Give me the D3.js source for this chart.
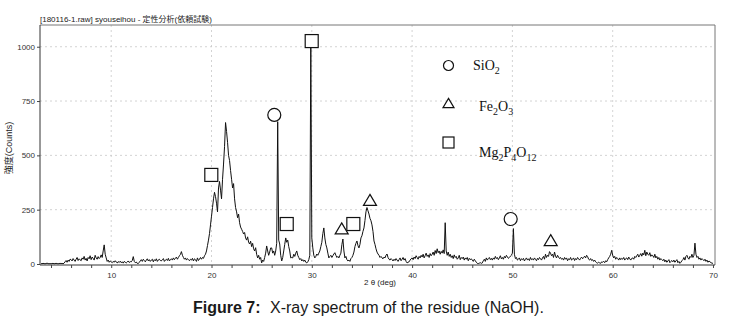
<!DOCTYPE html>
<html>
<head>
<meta charset="utf-8">
<script src="https://cdn.jsdelivr.net/npm/d3@7"></script>
<style>
    body { margin: 0; background: #fff; }
    .line { fill: none; stroke: #111; stroke-width: 1; }
    .grid { stroke: #c8c8c8; stroke-width: 0.8; stroke-dasharray: 2,3; }
    .tick text { font-family: Arial, "Liberation Sans", sans-serif; font-size: 8px; fill: #333; }
    .tick line { stroke: #444; }
    .mark { fill: #fff; stroke: #111; stroke-width: 1.2; }
    .legend { font-family: "Liberation Serif", "DejaVu Serif", serif; font-size: 14px; fill: #111; }
</style>
</head>
<body>
<svg id="container" width="752" height="331"></svg>
<script>
// XRD scan: counts every 0.1 deg starting at 3.0 deg (one row per degree)
const startAngle = 3.0
const angleStep = 0.1
const counts = [
    2,1,3,2,1,2,4,2,1,2,
    1,2,3,1,2,3,2,1,2,3,
    2,3,1,4,10,16,8,18,12,22,
    20,14,25,18,12,22,30,16,24,19,
    15,28,22,35,18,26,14,30,24,38,
    20,32,26,18,40,28,22,34,25,30,
    42,30,60,88,45,28,12,18,8,14,
    10,6,12,8,15,9,5,11,7,13,
    6,10,4,12,8,5,9,14,7,11,
    10,16,34,12,6,9,3,2,8,14,
    20,12,22,16,10,18,24,14,20,12,
    18,22,10,20,15,24,12,19,22,16,
    14,20,25,12,18,22,16,26,14,20,
    24,18,28,20,26,32,22,30,38,44,
    57,40,30,22,28,18,25,20,15,22,
    18,26,14,24,20,12,28,16,22,30,
    22,30,26,38,45,60,85,110,140,180,
    220,260,300,330,310,280,240,350,380,340,
    300,390,460,540,651,610,560,500,476,430,
    390,350,370,300,260,240,213,230,190,170,
    160,150,138,145,120,110,125,100,92,105,
    80,95,70,60,75,45,28,40,22,30,
    5,18,12,30,50,83,60,40,55,74,
    74,50,60,40,60,95,655,110,92,40,
    14,30,60,90,120,100,110,80,60,28,
    30,28,45,35,50,60,40,30,20,25,
    14,20,12,18,8,5,10,20,40,1010,
    120,74,40,28,35,46,40,50,60,80,
    100,140,166,120,90,74,50,28,35,40,
    30,38,46,52,40,30,35,28,40,50,
    90,115,60,28,35,20,14,18,12,25,
    30,40,55,80,95,106,85,74,90,120,
    130,150,166,200,240,260,245,230,210,199,
    180,150,106,90,70,55,46,40,30,35,
    28,24,32,28,40,46,30,22,18,25,
    20,14,22,16,25,18,12,20,28,15,
    22,30,18,25,12,5,8,10,18,24,
    28,20,32,25,38,30,22,35,28,40,
    32,45,28,38,50,35,42,30,48,38,
    45,55,40,62,48,70,52,60,45,58,
    50,65,48,190,60,40,55,35,45,30,
    38,25,42,30,35,22,28,40,20,30,
    25,32,18,28,22,30,15,26,20,24,
    18,12,22,15,8,3,2,4,6,3,
    5,15,22,12,28,18,25,30,20,26,
    18,28,22,35,25,30,20,28,38,24,
    30,22,35,28,40,33,26,30,36,40,
    50,163,45,25,30,18,22,28,15,24,
    20,26,14,22,28,18,24,16,30,20,
    24,18,28,22,15,26,20,30,24,18,
    28,35,22,45,30,40,35,57,50,38,
    45,30,55,36,28,40,32,25,30,22,
    26,18,30,22,28,15,24,20,30,18,
    22,28,16,25,20,30,24,18,26,32,
    24,30,36,28,40,34,22,18,25,16,
    20,12,18,10,6,4,8,5,3,10,
    8,12,6,15,10,20,28,35,45,63,
    40,28,35,22,30,25,18,28,20,26,
    22,30,18,25,28,20,32,24,18,26,
    28,22,35,30,38,45,32,40,48,36,
    50,42,63,38,55,45,40,52,35,42,
    38,30,45,28,35,22,30,18,25,20,
    15,22,10,18,8,14,20,6,12,16,
    10,18,8,14,20,6,12,3,8,15,
    20,30,18,35,40,28,22,35,30,45,
    30,40,96,45,30,35,22,28,18,25,
    20,15,22,12,18,8,14,10,6,4,
    3
]

const yTicks = [0, 250, 500, 750, 1000]
const xLabels = [10, 20, 30, 40, 50, 60, 70]

// peak markers [2theta, counts] for each phase
const sio2Marks = [[26.26, 686], [49.83, 207]]
const fe2o3Marks = [[32.98, 164], [35.8, 295], [53.82, 110]]
const mg2p4o12Marks = [[19.98, 410], [27.5, 184], [29.99, 1026], [34.14, 184]]

let svg = d3.select("#container")
let plotLeft = 40, plotRight = 715, plotTop = 25, plotBottom = 265

let x = d3.scaleLinear().domain([3, 70.2]).range([41, 715])
let y = d3.scaleLinear().domain([0, 1100]).range([264, 25])

// grid
svg.append("g").selectAll("line")
    .data([10, 20, 30, 40, 50, 60])
    .enter().append("line")
    .attr("class", "grid")
    .attr("x1", d => x(d)).attr("x2", d => x(d))
    .attr("y1", plotTop).attr("y2", plotBottom)
svg.append("g").selectAll("line")
    .data(yTicks.filter(d => d > 0))
    .enter().append("line")
    .attr("class", "grid")
    .attr("x1", plotLeft).attr("x2", plotRight)
    .attr("y1", d => y(d)).attr("y2", d => y(d))

// frame
svg.append("path")
    .attr("d", `M${plotLeft},${plotTop}H${plotRight}V${plotBottom}`)
    .attr("fill", "none").attr("stroke", "#777").attr("stroke-width", 1)
svg.append("path")
    .attr("d", `M${plotLeft},${plotTop}V${plotBottom}H${plotRight}`)
    .attr("fill", "none").attr("stroke", "#333").attr("stroke-width", 1)

// axes
let xAxis = d3.axisBottom(x)
    .tickValues(d3.range(4, 71, 2))
    .tickSize(3)
    .tickFormat(d => xLabels.includes(d) ? d : "")
svg.append("g").attr("transform", `translate(0,${plotBottom})`).call(xAxis)
    .call(g => g.select(".domain").remove())
    .selectAll("text").attr("dy", "0.9em")

let yAxis = d3.axisLeft(y).tickValues(yTicks).tickFormat(d3.format("d")).tickSize(3).tickPadding(2)
svg.append("g").attr("transform", `translate(${plotLeft},0)`).call(yAxis)
    .call(g => g.select(".domain").remove())

// spectrum
let line = d3.line()
    .x((d, i) => x(startAngle + i * angleStep))
    .y(d => y(d))
svg.append("path").datum(counts).attr("class", "line").attr("d", line)

// markers
function drawSymbol(g, kind, cx, cy, s) {
    if (kind == "circle") {
        g.append("circle").attr("class", "mark").attr("cx", cx).attr("cy", cy).attr("r", s / 2)
    } else if (kind == "square") {
        g.append("rect").attr("class", "mark")
            .attr("x", cx - s / 2).attr("y", cy - s / 2).attr("width", s).attr("height", s)
    } else {
        let h = s * 0.85
        g.append("path").attr("class", "mark")
            .attr("d", `M${cx},${cy - h / 2}L${cx + s / 2},${cy + h / 2}L${cx - s / 2},${cy + h / 2}Z`)
    }
}
let marks = svg.append("g")
sio2Marks.forEach(d => drawSymbol(marks, "circle", x(d[0]), y(d[1]), 13))
fe2o3Marks.forEach(d => drawSymbol(marks, "triangle", x(d[0]), y(d[1]), 13))
mg2p4o12Marks.forEach(d => drawSymbol(marks, "square", x(d[0]), y(d[1]), 13))

// legend
let legend = svg.append("g")
drawSymbol(legend, "circle", 448.5, 65.5, 10)
drawSymbol(legend, "triangle", 448.5, 103, 11)
drawSymbol(legend, "square", 448.5, 142.5, 11)
let t1 = legend.append("text").attr("class", "legend").attr("x", 473).attr("y", 70)
t1.append("tspan").text("SiO")
t1.append("tspan").attr("dy", 4).attr("font-size", 10).text("2")
let t2 = legend.append("text").attr("class", "legend").attr("x", 479).attr("y", 111)
t2.append("tspan").text("Fe")
t2.append("tspan").attr("dy", 4).attr("font-size", 10).text("2")
t2.append("tspan").attr("dy", -4).text("O")
t2.append("tspan").attr("dy", 4).attr("font-size", 10).text("3")
let t3 = legend.append("text").attr("class", "legend").attr("x", 479).attr("y", 157)
t3.append("tspan").text("Mg")
t3.append("tspan").attr("dy", 4).attr("font-size", 10).text("2")
t3.append("tspan").attr("dy", -4).text("P")
t3.append("tspan").attr("dy", 4).attr("font-size", 10).text("4")
t3.append("tspan").attr("dy", -4).text("O")
t3.append("tspan").attr("dy", 4).attr("font-size", 10).text("12")

// titles
svg.append("text").attr("x", 40).attr("y", 22)
    .attr("font-family", "Arial, 'Noto Sans CJK JP', sans-serif").attr("font-size", 8).attr("fill", "#222")
    .text("[180116-1.raw] syouseihou - 定性分析(依頼試験)")
svg.append("text")
    .attr("transform", "translate(12,148) rotate(-90)")
    .attr("text-anchor", "middle")
    .attr("font-family", "Arial, 'Noto Sans CJK JP', sans-serif").attr("font-size", 9).attr("fill", "#222")
    .text("強度(Counts)")
svg.append("text").attr("x", 364).attr("y", 285)
    .attr("font-family", "Arial, sans-serif").attr("font-size", 8).attr("fill", "#222")
    .text("2 θ (deg)")

let cap = svg.append("text").attr("x", 193).attr("y", 313)
    .attr("font-family", "Arial, 'Liberation Sans', sans-serif").attr("font-size", 16).attr("fill", "#1a1a1a")
cap.append("tspan").attr("font-weight", "bold").text("Figure 7:")
cap.append("tspan").attr("x", 270).text("X-ray spectrum of the residue (NaOH).")
</script>
</body>
</html>
